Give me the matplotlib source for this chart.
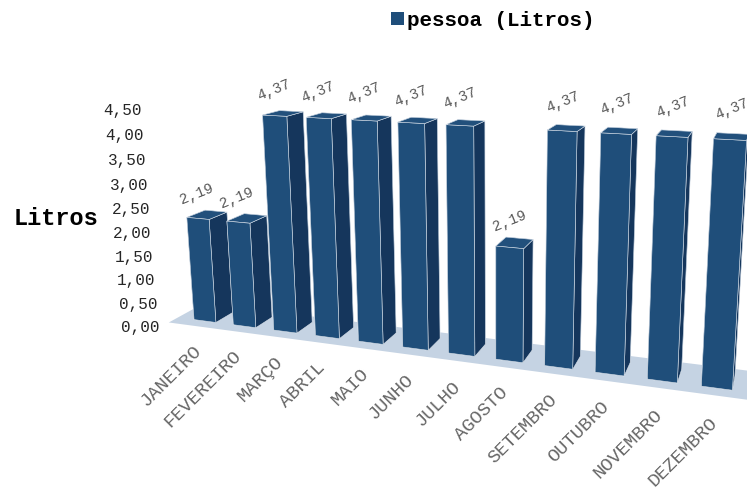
import numpy as np
import matplotlib
matplotlib.use("Agg")
import matplotlib.pyplot as plt
from matplotlib.patches import Patch
from matplotlib.transforms import offset_copy
from mpl_toolkits.mplot3d.art3d import Poly3DCollection
from mpl_toolkits.mplot3d import proj3d

months = ["JANEIRO", "FEVEREIRO", "MARÇO", "ABRIL", "MAIO", "JUNHO",
          "JULHO", "AGOSTO", "SETEMBRO", "OUTUBRO", "NOVEMBRO", "DEZEMBRO"]
values = [2.19, 2.19, 4.37, 4.37, 4.37, 4.37, 4.37, 2.19, 4.37, 4.37, 4.37, 4.37]
value_labels = ["2,19", "2,19", "4,37", "4,37", "4,37", "4,37", "4,37",
                "2,19", "4,37", "4,37", "4,37", "4,37"]
ticks = [0.0, 0.5, 1.0, 1.5, 2.0, 2.5, 3.0, 3.5, 4.0, 4.5]
tick_labels = ["0,00", "0,50", "1,00", "1,50", "2,00", "2,50", "3,00", "3,50", "4,00", "4,50"]
series_name = "pessoa (Litros)"
axis_title = "Litros"

MONO = "Liberation Mono"
FRONT = "#1f4e7a"
SIDE = "#15365c"
TOP = "#22507c"
FLOOR = "#c5d3e3"

FW, FH = 747, 490
fig = plt.figure(figsize=(FW / 100, FH / 100), dpi=100)
side = 825
cx, cy = 0.648, 0.627
w, h = side / FW, side / FH
ax = fig.add_axes([cx - w / 2, cy - h / 2, w, h], projection="3d", computed_zorder=False)
ax.set_proj_type("persp", focal_length=0.21)
ax.view_init(elev=12, azim=-72)

dx, dy = 0.56, 0.62
n = len(values)
xs = np.arange(n) - dx / 2
x0, x1 = -0.7, 13.9
y0, y1 = -0.3, dy + 0.3
ztop = 7.0
ax.set_xlim(x0, x1)
ax.set_ylim(y0, y1)
ax.set_zlim(0, ztop)
ax.set_box_aspect(((x1 - x0) * 0.94, y1 - y0, ztop), zoom=1.0)
ax.set_axis_off()

floor = Poly3DCollection([[(x0, y0, 0), (x1, y0, 0), (x1, y1, 0), (x0, y1, 0)]],
                         facecolor=FLOOR, edgecolor="none", zorder=1)
ax.add_collection3d(floor)

face_colors = []
for _ in range(n):
    # -z, +z, -y, +y, -x, +x
    face_colors += [FRONT, TOP, FRONT, FRONT, SIDE, SIDE]
ax.bar3d(xs, np.zeros(n), np.zeros(n), dx, dy, values, color=face_colors,
         shade=False, edgecolor="#dfe6ee", linewidth=0.4, zorder=2)

M = ax.get_proj()


def put(x, y, z, s, transform=None, **kw):
    px, py, _ = proj3d.proj_transform(x, y, z, M)
    ax.text2D(px, py, s, transform=transform or ax.transData, **kw)


for i, (v, lab) in enumerate(zip(values, value_labels)):
    put(i, 0, v + 0.5, lab, fontsize=10.5, family=MONO, color="#595959",
        rotation=22, ha="center", va="center", zorder=5)

for i, m in enumerate(months):
    put(i - 0.1, y0, -0.35, m, fontsize=13.5, family=MONO, color="#666666",
        rotation=45, ha="right", va="top", rotation_mode="anchor", zorder=5)

tick_tr = offset_copy(ax.transData, fig=fig, x=0, y=-6, units="dots")
for t, lab in zip(ticks, tick_labels):
    put(-0.95, y0, t, lab, transform=tick_tr, fontsize=11.5, family=MONO,
        color="#262626", ha="right", va="center", zorder=5)

fig.text(0.018, 0.555, axis_title, fontsize=17, family=MONO, weight="bold",
         ha="left", va="center")

fig.legend(handles=[Patch(facecolor=FRONT, edgecolor="none")], labels=[series_name],
           loc="center", bbox_to_anchor=(0.66, 0.958), frameon=False,
           prop={"family": MONO, "weight": "bold", "size": 15},
           handlelength=0.6, handleheight=0.6, handletextpad=0.15)

fig.savefig("out.png", dpi=100)
